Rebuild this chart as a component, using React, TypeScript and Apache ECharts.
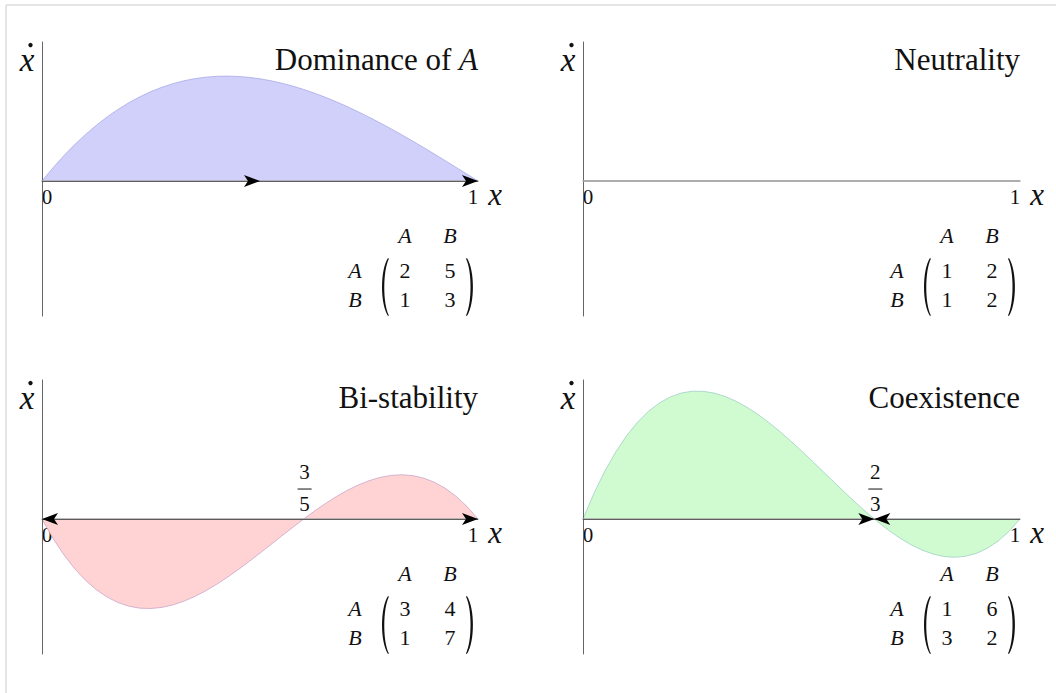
import React, { useEffect, useRef } from "react";
import * as echarts from "echarts";

// Sample positions along the simplex x ∈ [0, 1]
const xs = [
  0, 0.025, 0.05, 0.075, 0.1, 0.125, 0.15, 0.175, 0.2, 0.225, 0.25, 0.275, 0.3, 0.325, 0.35, 0.375, 0.4, 0.425, 0.45, 0.475, 0.5,
  0.525, 0.55, 0.575, 0.6, 0.625, 0.65, 0.675, 0.7, 0.725, 0.75, 0.775, 0.8, 0.825, 0.85, 0.875, 0.9, 0.925, 0.95, 0.975, 1,
];

// Replicator dynamics ẋ for each game
const dominanceY = [
  0, 0.0481, 0.0926, 0.1336, 0.171, 0.2051, 0.2359, 0.2635, 0.288, 0.3095, 0.3281, 0.3439, 0.357, 0.3675, 0.3754, 0.3809, 0.384,
  0.3849, 0.3836, 0.3803, 0.375, 0.3678, 0.3589, 0.3482, 0.336, 0.3223, 0.3071, 0.2907, 0.273, 0.2542, 0.2344, 0.2136, 0.192,
  0.1696, 0.1466, 0.1231, 0.099, 0.0746, 0.0499, 0.025, 0,
];
const neutralityY = [
  0, 0, 0, 0, 0, 0, 0, 0, 0, 0, 0, 0, 0, 0, 0, 0, 0, 0, 0, 0, 0, 0, 0, 0, 0, 0, 0, 0, 0, 0, 0, 0, 0, 0, 0, 0, 0, 0, 0, 0, 0,
];
const bistabilityY = [
  0, -0.0701, -0.1306, -0.1821, -0.225, -0.2598, -0.2869, -0.3068, -0.32, -0.327, -0.3281, -0.324, -0.315, -0.3016, -0.2844,
  -0.2637, -0.24, -0.2138, -0.1856, -0.1559, -0.125, -0.0935, -0.0619, -0.0306, 0, 0.0293, 0.0569, 0.0823, 0.105, 0.1246, 0.1406,
  0.1526, 0.16, 0.1624, 0.1594, 0.1504, 0.135, 0.1127, 0.0831, 0.0457, 0,
];
const coexistenceY = [
  0, 0.0938, 0.1758, 0.2463, 0.306, 0.3555, 0.3953, 0.4259, 0.448, 0.4621, 0.4688, 0.4685, 0.462, 0.4497, 0.4323, 0.4102, 0.384,
  0.3543, 0.3218, 0.2868, 0.25, 0.212, 0.1733, 0.1344, 0.096, 0.0586, 0.0228, -0.011, -0.042, -0.0698, -0.0938, -0.1133, -0.128,
  -0.1372, -0.1403, -0.1367, -0.126, -0.1075, -0.0808, -0.0451, 0,
];

const titles = ["Dominance of {i|A}", "Neutrality", "Bi-stability", "Coexistence"];
const strategies = ["A", "B"];
const payoffs = [
  [[2, 5], [1, 3]],
  [[1, 2], [1, 2]],
  [[3, 4], [1, 7]],
  [[1, 6], [3, 2]],
];
// Interior rest points: [numerator, denominator]
const restPoints: (number[] | null)[] = [null, null, [3, 5], [2, 3]];
// Flow arrows along the x-axis: [from, to]
const flows = [
  [[0, 0.5], [0.5, 1]],
  [],
  [[0.6, 0], [0.6, 1]],
  [[0, 2 / 3], [1, 2 / 3]],
];

const curves = [dominanceY, neutralityY, bistabilityY, coexistenceY];
const fills = ["#d0d0fb", "none", "#ffd3d3", "#d0fbd0"];
const strokes = ["#a9a9e6", "#aaaaaa", "#c9a6c9", "#9fcfc4"];

const SERIF = "Liberation Serif";

echarts.graphic.registerShape(
  "lparen",
  echarts.graphic.extendPath("M10 0 C2 12 2 46 10 58 L10.9 57.4 C4.8 45 4.8 13 10.9 0.6 Z", {})
);
echarts.graphic.registerShape(
  "rparen",
  echarts.graphic.extendPath("M0.9 0 C8.9 12 8.9 46 0.9 58 L0 57.4 C6.1 45 6.1 13 0 0.6 Z", {})
);

const gridLefts = [42, 583, 42, 583];
const gridWidths = [436, 437, 436, 437];
const gridTops = [42, 42, 380, 380];
const GRID_H = 274;

export default function App() {
  const ref = useRef<HTMLDivElement>(null);

  useEffect(() => {
    const chart = echarts.init(ref.current!, null, { renderer: "svg" });

    const grid = gridLefts.map((l, i) => ({
      left: l,
      top: gridTops[i],
      width: gridWidths[i],
      height: GRID_H,
    }));

    const xAxis = grid.map((_, i) => ({
      type: "value",
      gridIndex: i,
      min: 0,
      max: 1,
      z: 3,
      axisLine: { show: true, onZero: true, lineStyle: { color: "#a8a8a8", width: 1.5 } },
      axisTick: { show: false },
      axisLabel: { show: false },
      splitLine: { show: false },
    }));

    const yAxis = grid.map((_, i) => ({
      type: "value",
      gridIndex: i,
      min: -0.495,
      max: 0.51,
      z: 3,
      axisLine: { show: true, lineStyle: { color: "#666666", width: 1 } },
      axisTick: { show: false },
      axisLabel: { show: false },
      splitLine: { show: false },
    }));

    const series = curves.map((ys, i) => ({
      type: "line",
      xAxisIndex: i,
      yAxisIndex: i,
      data: xs.map((x, k) => [x, ys[k]]),
      smooth: false,
      symbol: "none",
      silent: true,
      z: 2,
      lineStyle: { color: strokes[i], width: i === 1 ? 1.5 : 0.8 },
      areaStyle: fills[i] === "none" ? undefined : { color: fills[i], opacity: 1 },
      markLine: {
        silent: true,
        symbol: ["none", "arrow"],
        symbolSize: [9, 16],
        label: { show: false },
        emphasis: { disabled: true },
        lineStyle: { color: "#000", width: 0.5, type: "solid" },
        z: 4,
        data: flows[i].map(([a, b]) => [{ coord: [a, 0] }, { coord: [b, 0] }]),
      },
    }));

    chart.setOption({
      animation: false,
      backgroundColor: "#ffffff",
      grid,
      xAxis,
      yAxis,
      series,
    });

    const graphic: any[] = [
      { type: "line", shape: { x1: 6, y1: 5, x2: 1056, y2: 5 }, style: { stroke: "#dcdcdc", lineWidth: 1.5 } },
      { type: "line", shape: { x1: 6, y1: 5, x2: 6, y2: 693 }, style: { stroke: "#dcdcdc", lineWidth: 1.5 } },
    ];

    const txt = (x: number, y: number, text: string, size: number, opts: any = {}) => ({
      type: "text",
      x,
      y,
      silent: true,
      style: {
        text,
        fontFamily: SERIF,
        fontSize: size,
        fill: "#111",
        align: "center",
        verticalAlign: "middle",
        ...opts,
      },
    });

    for (let i = 0; i < 4; i++) {
      const [x0, y0] = chart.convertToPixel({ gridIndex: i }, [0, 0]) as number[];
      const [x1] = chart.convertToPixel({ gridIndex: i }, [1, 0]) as number[];

      // ẋ axis label
      graphic.push(txt(x0 - 15, y0 - 121, "x", 33, { fontStyle: "italic" }));
      graphic.push({ type: "circle", shape: { cx: x0 - 11.5, cy: y0 - 136, r: 2.2 }, style: { fill: "#111" } });

      // Title
      graphic.push(
        txt(x1, y0 - 122, titles[i], 31, {
          align: "right",
          rich: { i: { fontStyle: "italic", fontFamily: SERIF, fontSize: 31 } },
        })
      );

      // Axis end labels
      graphic.push(txt(x0 + 5, y0 + 16, "0", 21));
      graphic.push(txt(x1 - 5, y0 + 16, "1", 21));
      graphic.push(txt(x1 + 17, y0 + 13, "x", 31, { fontStyle: "italic" }));

      // Interior rest point as a fraction
      const rp = restPoints[i];
      if (rp) {
        const [fx] = chart.convertToPixel({ gridIndex: i }, [rp[0] / rp[1], 0]) as number[];
        graphic.push(txt(fx + 1, y0 - 47, String(rp[0]), 21));
        graphic.push({ type: "line", shape: { x1: fx - 6, y1: y0 - 30, x2: fx + 8, y2: y0 - 30 }, style: { stroke: "#111", lineWidth: 1 } });
        graphic.push(txt(fx + 1, y0 - 15, String(rp[1]), 21));
      }

      // Payoff matrix
      const colX = [x1 - 73, x1 - 28];
      const rowY = [y0 + 89, y0 + 118];
      strategies.forEach((s, c) => graphic.push(txt(colX[c], y0 + 54, s, 22, { fontStyle: "italic" })));
      strategies.forEach((s, r) => graphic.push(txt(x1 - 123, rowY[r], s, 22, { fontStyle: "italic" })));
      payoffs[i].forEach((row, r) =>
        row.forEach((v, c) => graphic.push(txt(colX[c], rowY[r], String(v), 22)))
      );
      graphic.push({ type: "lparen", x: x1 - 100, y: y0 + 77, silent: true, style: { fill: "#111" } });
      graphic.push({ type: "rparen", x: x1 - 12, y: y0 + 77, silent: true, style: { fill: "#111" } });
    }

    chart.setOption({ graphic });

    return () => chart.dispose();
  }, []);

  return (
    <div style={{ position: "fixed", left: 0, top: 0, width: 1056, height: 693, background: "#fff" }}>
      <div ref={ref} style={{ width: 1056, height: 693 }} />
    </div>
  );
}
